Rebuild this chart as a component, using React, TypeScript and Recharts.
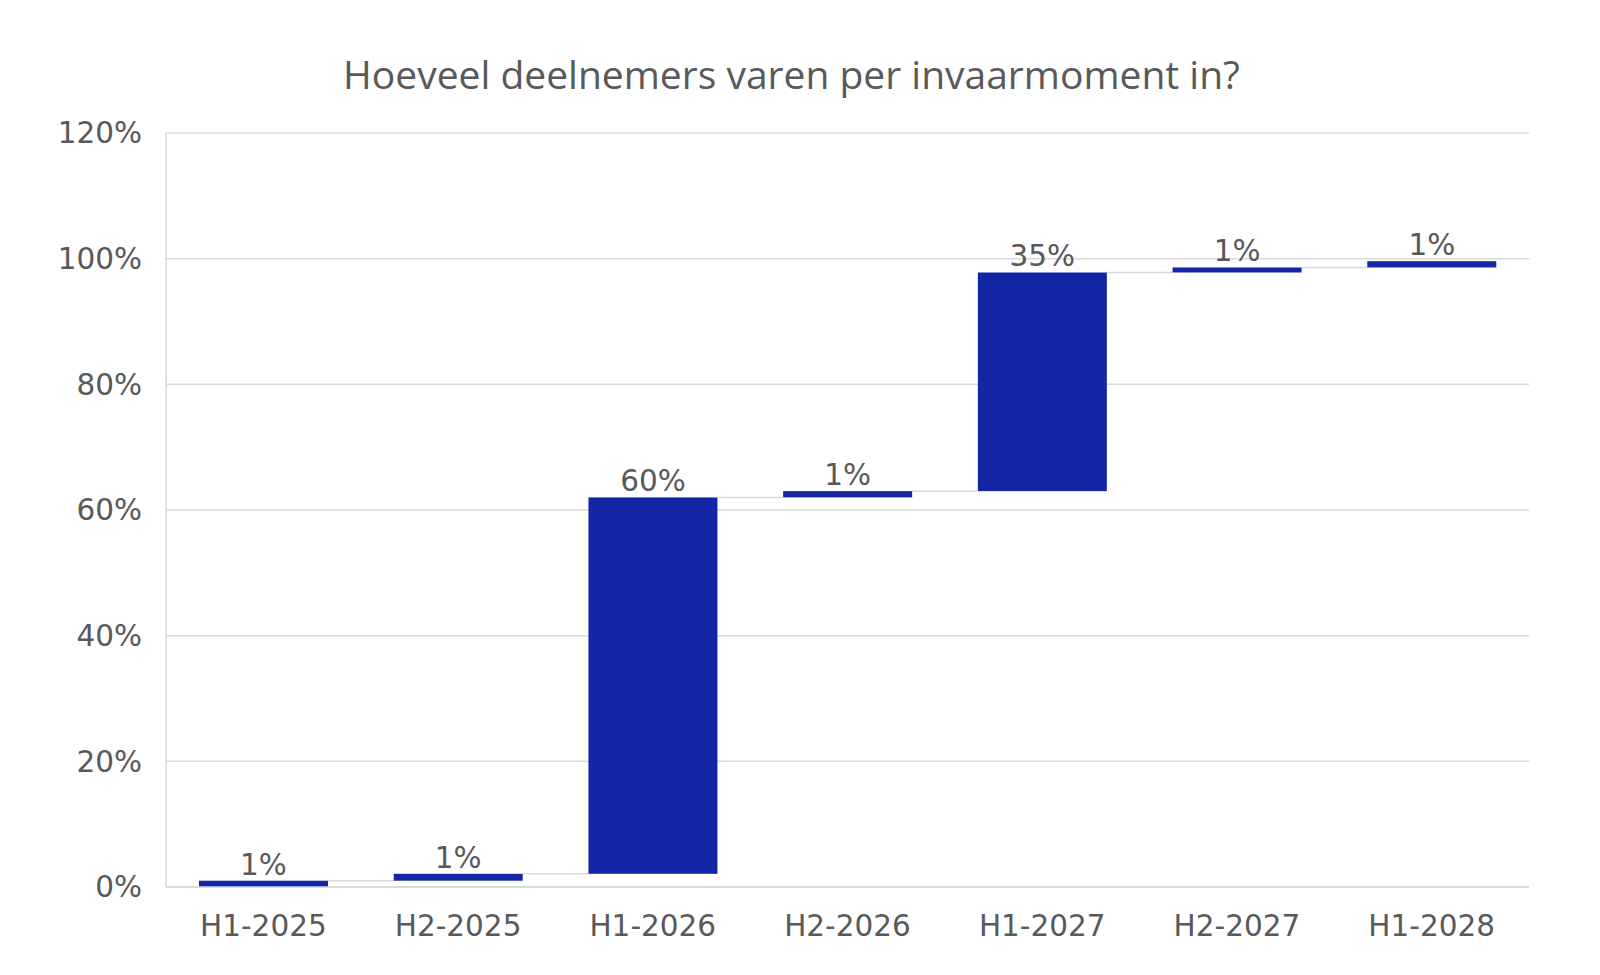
import { BarChart, Bar, XAxis, YAxis, CartesianGrid, LabelList } from 'recharts';

const categories = ['H1-2025', 'H2-2025', 'H1-2026', 'H2-2026', 'H1-2027', 'H2-2027', 'H1-2028'];
// share of participants per moment (%)
const increments = [1.0, 1.1, 59.9, 1.0, 34.8, 0.8, 1.0];
const yTicks = [0, 20, 40, 60, 80, 100, 120];

const BAR_COLOR = '#1226a6';
const TEXT_COLOR = '#595959';
const GRID_COLOR = '#d9d9d9';

const CHART_W = 1600;
const CHART_H = 975;
const PLOT_LEFT = 166;
const PLOT_RIGHT = 71;
const SLOT = (CHART_W - PLOT_LEFT - PLOT_RIGHT) / categories.length;

const data = categories.map((name, i) => ({
  name,
  base: increments.slice(0, i).reduce((a, b) => a + b, 0),
  value: increments[i],
}));

const WaterfallBar = (props: any) => {
  const { x, y, width, height, index } = props;
  const hasNext = index < categories.length - 1;
  return (
    <g>
      {hasNext && (
        <line x1={x + width} x2={x + SLOT} y1={y} y2={y} stroke={GRID_COLOR} strokeWidth={1.5} />
      )}
      <rect x={x} y={y} width={width} height={height} fill={BAR_COLOR} />
    </g>
  );
};

const renderLabel = (props: any) => {
  const { x, y, width, value } = props;
  return (
    <text
      x={x + width / 2}
      y={y - 6}
      textAnchor="middle"
      fill={TEXT_COLOR}
      fontSize={29.5}
      fontFamily="DejaVu Sans"
    >
      {`${Math.round(value)}%`}
    </text>
  );
};

const tickStyle = { fill: TEXT_COLOR, fontSize: 29.5, fontFamily: 'DejaVu Sans' };

export default function App() {
  return (
    <div style={{ position: 'absolute', left: 0, top: 0, width: CHART_W, height: CHART_H, background: '#fff' }}>
      <div
        style={{
          position: 'absolute',
          left: 0,
          top: 54,
          width: 1583,
          textAlign: 'center',
          fontFamily: '"Open Sans"',
          fontSize: 39,
          lineHeight: '39px',
          color: TEXT_COLOR,
        }}
      >
        Hoeveel deelnemers varen per invaarmoment in?
      </div>
      <BarChart
        width={CHART_W}
        height={CHART_H}
        data={data}
        margin={{ top: 133, right: PLOT_RIGHT, bottom: 0, left: 0 }}
        barSize={129}
      >
        <CartesianGrid vertical={false} stroke={GRID_COLOR} strokeWidth={1.5} />
        <XAxis
          dataKey="name"
          height={88}
          axisLine={{ stroke: GRID_COLOR, strokeWidth: 1.5 }}
          tickLine={false}
          tickSize={0}
          tickMargin={28}
          tick={tickStyle}
          interval={0}
        />
        <YAxis
          width={PLOT_LEFT}
          domain={[0, 120]}
          ticks={yTicks}
          tickFormatter={(v: number) => `${v}%`}
          axisLine={{ stroke: GRID_COLOR, strokeWidth: 1.5 }}
          tickLine={false}
          tickSize={0}
          tickMargin={24}
          tick={tickStyle}
        />
        <Bar dataKey="base" stackId="w" fill="transparent" isAnimationActive={false} />
        <Bar dataKey="value" stackId="w" fill={BAR_COLOR} shape={WaterfallBar} isAnimationActive={false}>
          <LabelList dataKey="value" content={renderLabel} />
        </Bar>
      </BarChart>
    </div>
  );
}
